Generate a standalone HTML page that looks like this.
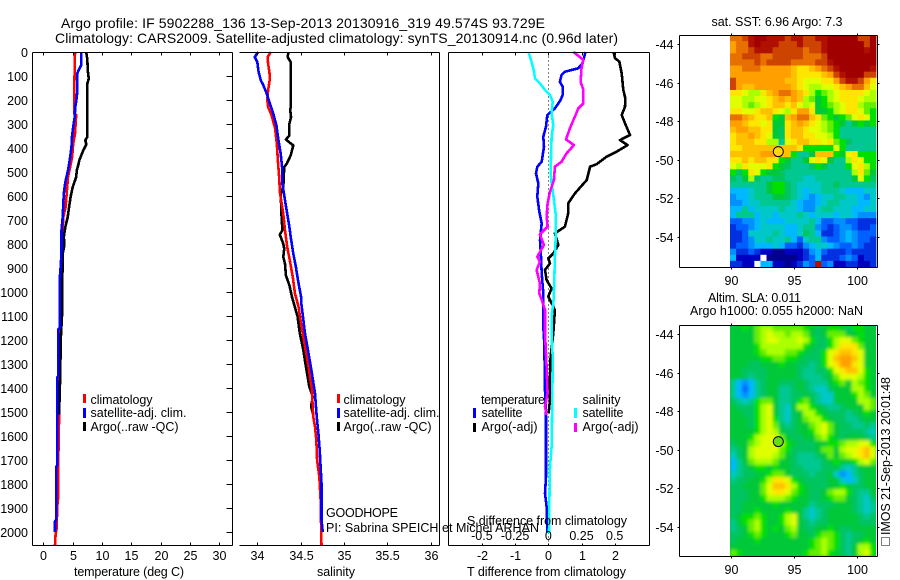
<!DOCTYPE html>
<html>
<head>
<meta charset="utf-8">
<title>Argo profile</title>
<style>
html,body{margin:0;padding:0;background:#fff;width:900px;height:580px;overflow:hidden}
svg{display:block}
text{font-family:"Liberation Sans",sans-serif;font-size:12.5px;fill:#000}
.t{font-size:14px}
.spine{stroke:#000;stroke-width:1;shape-rendering:crispEdges;fill:none}
</style>
</head>
<body>
<svg id="fig" width="900" height="580" viewBox="0 0 900 580" xmlns="http://www.w3.org/2000/svg">
<defs>
<filter id="slaBlur" filterUnits="userSpaceOnUse" x="720" y="315" width="166" height="251"><feGaussianBlur stdDeviation="1.6"/></filter>
<clipPath id="slaClip"><rect x="730" y="325" width="146" height="231"/></clipPath>
</defs>
<text class="t" x="61" y="28" textLength="484">Argo profile: IF 5902288_136 13-Sep-2013 20130916_319 49.574S 93.729E</text>
<text class="t" x="55" y="43" textLength="563">Climatology: CARS2009. Satellite-adjusted climatology: synTS_20130914.nc (0.96d later)</text>

<g id="panelT"></g>
<g id="panelS"></g>
<g id="panelD"></g>
<g id="map1"></g>
<g id="map2"></g>

<text x="74" y="576" textLength="110">temperature (deg C)</text>
<text x="317" y="576" textLength="38">salinity</text>
<text x="467" y="576" textLength="159">T difference from climatology</text>
<text x="467" y="525" textLength="160">S difference from climatology</text>

<g>
<rect x="83" y="394" width="3" height="9" fill="#f00"/>
<rect x="83" y="408" width="3" height="10" fill="#00f"/>
<rect x="83" y="422" width="3" height="9" fill="#000"/>
<text x="90.5" y="404" textLength="62">climatology</text>
<text x="90.5" y="417" textLength="96">satellite-adj. clim.</text>
<text x="90.5" y="431" textLength="88">Argo(..raw -QC)</text>
</g>
<g>
<rect x="337" y="394" width="3" height="9" fill="#f00"/>
<rect x="337" y="408" width="3" height="10" fill="#00f"/>
<rect x="337" y="422" width="3" height="9" fill="#000"/>
<text x="343.5" y="404" textLength="62">climatology</text>
<text x="343.5" y="417" textLength="96">satellite-adj. clim.</text>
<text x="343.5" y="431" textLength="88">Argo(..raw -QC)</text>
</g>
<g>
<text x="481" y="404" textLength="64">temperature</text>
<rect x="473" y="408" width="3" height="10" fill="#00f"/>
<rect x="473" y="423" width="3" height="9" fill="#000"/>
<text x="481.5" y="417" textLength="41">satellite</text>
<text x="481.5" y="431" textLength="56">Argo(-adj)</text>
<text x="582.5" y="404" textLength="38">salinity</text>
<rect x="574" y="408" width="3" height="10" fill="#0ff"/>
<rect x="574" y="423" width="3" height="9" fill="#f0f"/>
<text x="582.5" y="417" textLength="41">satellite</text>
<text x="582.5" y="431" textLength="56">Argo(-adj)</text>
</g>

<text x="326" y="517" textLength="72">GOODHOPE</text>
<text x="326" y="532" textLength="213">PI: Sabrina SPEICH et Michel ARHAN</text>

<text x="711.5" y="26" textLength="131">sat. SST: 6.96 Argo: 7.3</text>
<text x="708" y="302" textLength="93">Altim. SLA: 0.011</text>
<text x="690" y="315" textLength="173">Argo h1000: 0.055 h2000: NaN</text>

<rect x="881.5" y="537.5" width="8" height="8" fill="none" stroke="#000" stroke-width="1" stroke-dasharray="1 1" shape-rendering="crispEdges"/>
<text transform="translate(890,535) rotate(-90)" x="0" y="0" textLength="158">IMOS 21-Sep-2013 20:01:48</text>
</svg>

<script>
// ---- Temperature profile data (deg C vs depth in m)
const tempClimDepth = [0,132,258,262,340,382,438,482,521,583,646,688,729,812,924,1061,1400,1520,1700,1850,1900,1980,2010,2054];
const tempClimValue = [5.4,5.3,5.3,5.6,5.4,5.1,4.9,4.55,4.2,4.0,3.8,3.4,3.3,3.1,3.2,3.1,2.75,2.7,2.55,2.55,2.35,2.3,2.1,2.0];
const tempSatDepth = [0,55,79,90,160,188,229,271,313,347,396,451,493,542,590,632,688,743,826,882,931,1010,1150,1155,1350,1355,1720,1730,1950,1955,2000];
const tempSatValue = [6.45,6.45,5.97,5.8,5.8,5.7,5.45,5.35,5.1,4.9,4.8,4.5,4.2,3.75,3.5,3.4,3.3,3.1,3.1,3.0,2.85,2.8,2.85,2.55,2.55,2.4,2.4,2.2,2.2,2.0,2.0];
const tempArgoDepth = [0,30,83,111,132,354,368,385,410,450,472,493,521,563,604,646,688,729,771,806,840,1033,1090,1185,1380,1510];
const tempArgoValue = [7.3,7.5,7.6,7.75,7.5,7.5,7.15,7.35,6.8,6.15,5.95,5.7,5.6,5.0,4.65,4.4,4.15,3.75,3.5,3.6,3.3,3.2,3.2,3.0,2.85,2.7];

// ---- Salinity profile data
const salClimDepth = [0,21,49,83,111,160,201,229,264,319,382,465,535,583,674,743,812,868,938,1007,1061,1144,1227,1311,1408,1519,1561,1616,1700,1769,1866,2055];
const salClimValue = [34.155,34.12,34.125,34.14,34.145,34.125,34.115,34.125,34.165,34.205,34.225,34.24,34.255,34.26,34.30,34.32,34.345,34.375,34.41,34.435,34.475,34.51,34.55,34.59,34.63,34.645,34.665,34.68,34.69,34.715,34.73,34.74];
const salSatDepth = [0,21,42,83,118,139,174,215,257,306,368,424,493,549,618,674,729,771,840,896,951,1021,1040,1172,1255,1339,1422,1519,1589,1658,1797,1950,2000];
const salSatValue = [34.01,33.97,34.0,34.015,34.04,34.07,34.11,34.145,34.185,34.22,34.245,34.27,34.29,34.29,34.32,34.345,34.37,34.385,34.415,34.445,34.47,34.505,34.505,34.55,34.59,34.63,34.665,34.685,34.705,34.72,34.74,34.74,34.755];
const salArgoDepth = [0,21,42,229,243,271,299,347,365,389,431,465,479,563,590,688,743,761,799,819,854,882,931,972,1021,1103,1172,1241,1311,1394,1436,1477,1512];
const salArgoValue = [34.36,34.35,34.385,34.385,34.38,34.39,34.37,34.37,34.33,34.415,34.385,34.34,34.31,34.30,34.27,34.28,34.29,34.26,34.30,34.31,34.30,34.32,34.33,34.37,34.40,34.465,34.49,34.53,34.56,34.6,34.64,34.62,34.645];

// ---- Difference data
const dTSatDepth = [0,47,68,82,96,124,144,179,200,235,263,311,353,394,457,478,506,547,603,665,714,783,853,922,1006,1144,1214,1408,1519,1769,1839,1894,2005];
const dTSatValue = [1.12,1.03,.90,.50,.40,.35,.43,.43,.37,.20,-.03,-.07,-.15,-.13,-.20,-.33,-.37,-.30,-.33,-.27,-.20,-.25,-.22,-.20,-.15,-.15,-.12,-.10,-.07,-.07,-.10,-.05,-.03];
const dTArgoDepth = [0,26,40,89,158,193,228,263,297,346,367,388,415,436,467,478,533,589,631,672,728,756,804,839,860,881,908,950,985,1019,1075,1172,1269,1352,1450,1505];
const dTArgoValue = [1.96,2.01,2.14,2.21,2.26,2.32,2.31,2.21,2.31,2.46,2.16,2.39,2.06,1.76,1.46,1.26,1.16,.80,.60,.60,.50,.20,.30,.15,0,.05,-.10,-.05,.10,0,.20,.15,.07,.05,.05,.01];
const dSSatDepth = [0,33,75,110,131,158,179,207,256,304,353,436,506,547,617,672,783,853,950,1033,1102,1186,1269,1450,1644,1727,1866,2005];
const dSSatValue = [-.15,-.13,-.11,-.10,-.063,-.025,.013,.033,.025,.038,.025,.02,.018,.025,.043,.055,.055,.05,.045,.04,.025,.025,.033,.03,.025,.013,.008,.005];
const dSArgoDepth = [0,33,68,124,158,214,235,269,318,364,388,422,457,478,533,582,631,686,728,760,804,853,874,908,964,1006,1033,1075,1172,1311,1422,1477,1512];
const dSArgoValue = [.19,.264,.25,.243,.264,.264,.226,.20,.163,.133,.193,.138,.10,.05,.043,.013,-.005,-.013,-.005,-.063,-.033,-.083,-.063,-.088,-.063,-.068,-.05,-.025,-.025,-.013,-.005,-.025,-.013];

// ---- Tick labels
const depthTicks = [0,100,200,300,400,500,600,700,800,900,1000,1100,1200,1300,1400,1500,1600,1700,1800,1900,2000];
const tempTicks = [0,5,10,15,20,25,30];
const salTicks = [34,34.5,35,35.5,36];
const salTickLabels = ["34","34.5","35","35.5","36"];
const dTTicks = [-2,-1,0,1,2];
const dTTickLabels = ["-2","-1","0","1","2"];
const dSTicks = [-.5,-.25,0,.25,.5];
const dSTickLabels = ["-0.5","-0.25","0","0.25","0.5"];
const latTicks = [-44,-46,-48,-50,-52,-54];
const lonTicks = [90,95,100];
const argoLon = [93.729];
const argoLat = [-49.574];

// ---- Map grids: one character per cell, colour level a (coldest) .. u (warmest), w = no data
const levelColours = {a:"#00008f",b:"#0000c0",c:"#0030e0",d:"#0060ff",e:"#0090ff",f:"#00b8ff",g:"#00c8c8",h:"#00c890",i:"#00c460",j:"#00c838",k:"#00e000",l:"#66ee00",m:"#aaff00",n:"#e0ff00",o:"#ffe600",p:"#ffc000",q:"#ffa000",r:"#e87000",s:"#cc4400",t:"#b01000",u:"#a00000",w:"#ffffff"};
const sstRows = [
"rrstuutttsttssttuuuuussu",
"qrrtutttssstssstuuuuuusu",
"qrrstttsssssrsstuuuuuutu",
"rrsssrrsssssrrrsuuuuuuuu",
"rrrrsrssssrrrrsstuuuuuuu",
"qqrrrqqqqqpoopqrstuuuuut",
"qqqqqqqqqqpoooopqstuuuss",
"sqqqqqqqqpponnnooqsttsqo",
"sqppqqqqqqponmmnnopqrrpn",
"oonmmopqrrqpomklmnoooonm",
"nnmmnnopqpqpmljkmnooonmm",
"nnmlmnoppopnmnjklmnoomll",
"oonnopponmoqqojjkmnoonlk",
"rrqpoopkjpqrrpolkjklnonk",
"qqpoonojjopqponmlkjhjkjk",
"pqqppoojiopponnmlkhhhhhh",
"oppqponjioppoonnmkhhhhhh",
"opppoommhnoppoonolkihhhh",
"oopppppppppokkkkknkhhhhh",
"pppppqqqppkhhjpppkjnokkk",
"oopoppookjhhjnonjhhmonkk",
"nmonnnokjihhhikjhhhknomk",
"kikonkjjihhhhhhhhhhhmolj",
"ihjmihhiihhhgghhhhhhjnki",
"hhhhhhjkkihgggghhihhhhhh",
"fffghhjkkihgfgghhhgfffgg",
"effghhhjjihgfefgghhggfeg",
"eefgghhhhhgfeefghhgggffg",
"ffhfgggghggfeeghhgggffgg",
"fhhhfggfggghgfgggfggfeee",
"ddeefgfffgggghfddeeddccc",
"cddefggggffghhedcdeedccd",
"ccdgggghgffgihfccdefeddd",
"ccdegghgghfdghheddefeddc",
"cddefffgfddcefggfeddedcc",
"eccdcbbaabbbcefdcccdcccc",
"fbbbbwaaaaabcdfcccdedbcc",
"ccbbwffbbabcedtdebbccbbc"
];
const slaRows = [
"jjkjlmmlllllkjijkkjikkjj",
"jjjjlmnmmlmmljijllljjkjj",
"jjjjlmnnmmmnmkiikmnnlkjj",
"jjjjkmmmmmmmkjiikmoooljj",
"jjjjklmmmllkjiiknopponjj",
"jjjjjkkllkkjiiiknpqqpnjj",
"jjjiijjjkjjiihiknoqqonjj",
"jjiiiijjjjjihhiiknoppnkj",
"jjihiijjjjjihhhijlnnnmkj",
"hfefhijjiiijihhhjkljmlkj",
"hfdfhijjhhijihggijjjmmkj",
"hfefhijjhhiijihggjjjkmlj",
"ihghklljhhikljhggjjjjmml",
"jiiikmnjhgjmmkjihhijjjml",
"jjiikmnjhgijmmkjiiihijkj",
"jjjikmnkhgijlmmkjiihhijj",
"jjjikmnlihijjlmnljiihhih",
"jjjjkmnmjiijjkmnljiiiihg",
"jjjkmnnnljiijjlmkjijjjih",
"ijjlmnnnmkjiiijjkklmmnnk",
"hijmnnnnlkiiiijlljmnnopn",
"gijmnnnmljihhhijljlmnopn",
"fhjlmmmljjihhhhijkjjkmnl",
"fhijkkjkjjiihhhiijhghjjj",
"ghiijjklljiiihiijgefhijj",
"hiijjkmoonkjiiiijjgfgijj",
"iijjjlnppomkjiiijjkjiijj",
"iiijjlnoonlkjiijlmmkihhj",
"iiijjkmmmlkjjiijklljihgi",
"iijjjjjkjjjjjhiiijjjihgh",
"iijjkjjjjkjjhghijjjjihgh",
"ijkklkjjkmnjhghijjjjjihi",
"hjklmkjjkmnjihiijjjjjiii",
"hijlmkjkjlmjiijjkjiijjjj",
"iijklkjjjkljjikllkihiijj",
"ijjjkjjjjjjjjklmlkihijkj",
"jjjjjjjjjjjjjklmlkihjmmk",
"lkjjjjjjjjjjkllmkjihjmnk"
];

// ---- Scales
const SVGNS = "http://www.w3.org/2000/svg";
const yDepth = d => 52 + 0.24 * d;
const xTemp = t => 43.3 + 5.87 * t;
const xSal = s => 257.3 + 86.7 * (s - 34);
const xDT = t => 548.3 + 33.2 * t;
const xDS = s => 548.3 + 132.8 * s;
const xLon = lon => 731.3 + 12.6 * (lon - 90);
const yLat1 = lat => 44 + 19.3 * (-44 - lat);
const yLat2 = lat => 334 + 19.3 * (-44 - lat);
const LINE_W = 2.6;

function mk(tag, parent) {
  const el = document.createElementNS(SVGNS, tag);
  parent.appendChild(el);
  return el;
}
function line(parent, x1, y1, x2, y2) {
  const el = mk("line", parent);
  el.setAttribute("x1", x1);
  el.setAttribute("y1", y1);
  el.setAttribute("x2", x2);
  el.setAttribute("y2", y2);
  el.setAttribute("class", "spine");
  return el;
}
function label(parent, x, y, str, anchor) {
  const el = mk("text", parent);
  el.setAttribute("x", x);
  el.setAttribute("y", y);
  el.setAttribute("text-anchor", anchor);
  el.textContent = str;
  return el;
}
function profile(parent, xs, ys, xf, yf, colour) {
  const el = mk("polyline", parent);
  el.setAttribute("points", xs.map((v, i) => xf(v).toFixed(1) + "," + yf(ys[i]).toFixed(1)).join(" "));
  el.setAttribute("fill", "none");
  el.setAttribute("stroke", colour);
  el.setAttribute("stroke-width", LINE_W);
  el.setAttribute("stroke-linejoin", "round");
  el.setAttribute("shape-rendering", "crispEdges");
  return el;
}

const TOP = 52.5, BOT = 545.5;

// ---- Temperature panel
(function () {
  const g = document.getElementById("panelT");
  const red = profile(g, tempClimValue, tempClimDepth, xTemp, yDepth, "#f00");
  
  
  const blk = profile(g, tempArgoValue, tempArgoDepth, xTemp, yDepth, "#000");
  
  
  const blu = profile(g, tempSatValue, tempSatDepth, xTemp, yDepth, "#00f");
  
  
  const s1 = line(g, 32.5, TOP, 232.5, TOP);
  
  
  const s2 = line(g, 32.5, BOT, 232.5, BOT);
  
  
  const s3 = line(g, 32.5, TOP, 32.5, BOT);
  
  
  const s4 = line(g, 232.5, TOP, 232.5, BOT);
  
  
  depthTicks.forEach(d => {
    const y = Math.round(yDepth(d)) + 0.5;
    const tk = line(g, 226.5, y, 232.5, y);
    
    
    const lb = label(g, 28, y + 4.5, String(d), "end");
    
    
  });
  tempTicks.forEach(t => {
    const x = Math.round(xTemp(t)) + 0.5;
    const a = line(g, x, TOP, x, TOP + 3);
    
    
    const b = line(g, x, BOT - 3, x, BOT);
    
    
    const lb = label(g, x, 560, String(t), "middle");
    
    
  });
})();

// ---- Salinity panel
(function () {
  const g = document.getElementById("panelS");
  const blk = profile(g, salArgoValue, salArgoDepth, xSal, yDepth, "#000");
  
  
  const red = profile(g, salClimValue, salClimDepth, xSal, yDepth, "#f00");
  
  
  const blu = profile(g, salSatValue, salSatDepth, xSal, yDepth, "#00f");
  
  
  const s1 = line(g, 239.5, TOP, 439.5, TOP);
  
  
  const s2 = line(g, 239.5, BOT, 439.5, BOT);
  
  
  const s3 = line(g, 439.5, TOP, 439.5, BOT);
  
  
  salTicks.forEach((s, i) => {
    const x = Math.round(xSal(s)) + 0.5;
    const a = line(g, x, TOP, x, TOP + 3);
    
    
    const b = line(g, x, BOT - 3, x, BOT);
    
    
    const lb = label(g, x, 560, salTickLabels[i], "middle");
    
    
  });
})();

// ---- Difference panel
(function () {
  const g = document.getElementById("panelD");
  const z = mk("line", g);
  z.setAttribute("x1", 548.5);
  z.setAttribute("y1", TOP);
  z.setAttribute("x2", 548.5);
  z.setAttribute("y2", BOT);
  z.setAttribute("stroke", "#000");
  z.setAttribute("stroke-dasharray", "1 3");
  z.setAttribute("shape-rendering", "crispEdges");
  
  
  const blu = profile(g, dTSatValue, dTSatDepth, xDT, yDepth, "#00f");
  
  
  const blk = profile(g, dTArgoValue, dTArgoDepth, xDT, yDepth, "#000");
  
  
  const cy = profile(g, dSSatValue, dSSatDepth, xDS, yDepth, "#0ff");
  
  
  const mg = profile(g, dSArgoValue, dSArgoDepth, xDS, yDepth, "#f0f");
  
  
  const s1 = line(g, 448.5, TOP, 649.5, TOP);
  
  
  const s2 = line(g, 448.5, BOT, 649.5, BOT);
  
  
  const s3 = line(g, 448.5, TOP, 448.5, BOT);
  
  
  const s4 = line(g, 649.5, TOP, 649.5, BOT);
  
  
  dTTicks.forEach((t, i) => {
    const x = Math.round(xDT(t)) + 0.5;
    const a = line(g, x, TOP, x, TOP + 3);
    
    
    const b = line(g, x, BOT - 2, x, BOT);
    
    
    const lb = label(g, x, 560, dTTickLabels[i], "middle");
    
    
  });
  dSTicks.forEach((s, i) => {
    const lb = label(g, xDS(s), 540, dSTickLabels[i], "middle");
    
    
  });
})();

// ---- Maps
function drawMap(g, rows, yLat, top, bottom, markerFill, smooth) {
  const nRows = rows.length, nCols = rows[0].length;
  const x0 = 730, x1 = 876;
  const cw = (x1 - x0) / nCols, ch = (bottom - top) / nRows;
  let host = g;
  if (smooth) {
    const clip = mk("g", g);
    clip.setAttribute("clip-path", "url(#slaClip)");
    
    
    const base = mk("rect", clip);
    base.setAttribute("x", x0);
    base.setAttribute("y", top);
    base.setAttribute("width", x1 - x0);
    base.setAttribute("height", bottom - top);
    base.setAttribute("fill", "#00c838");
    
    
    host = mk("g", clip);
    host.setAttribute("filter", "url(#slaBlur)");
    
    
  }
  rows.forEach((row, r) => {
    for (let c = 0; c < nCols; c++) {
      const cell = mk("rect", host);
      cell.setAttribute("x", (x0 + c * cw).toFixed(2));
      cell.setAttribute("y", (top + r * ch).toFixed(2));
      cell.setAttribute("width", (cw + 0.4).toFixed(2));
      cell.setAttribute("height", (ch + 0.4).toFixed(2));
      cell.setAttribute("fill", levelColours[row[c]]);
      
      
    }
  });
  const L = 679.5, R = 877.5, T = top + 0.5, B = bottom + 0.5;
  const a = line(g, L, T, R, T);
  
  
  const b = line(g, L, B, R, B);
  
  
  const c1 = line(g, L, T, L, B);
  
  
  const c2 = line(g, R, T, R, B);
  
  
  latTicks.forEach(lat => {
    const y = Math.round(yLat(lat)) + 0.5;
    const t1 = line(g, L - 2, y, L, y);
    
    
    const t2 = line(g, R, y, R + 2, y);
    
    
    const lb = label(g, 673.5, y + 4.5, String(lat), "end");
    
    
  });
  lonTicks.forEach(lon => {
    const x = Math.round(xLon(lon)) + 0.5;
    const t1 = line(g, x, T - 2, x, T);
    
    
    const t2 = line(g, x, B, x, B + 2);
    
    
    const lb = label(g, x, B + 17.5, String(lon), "middle");
    
    
  });
  const m = mk("circle", g);
  m.setAttribute("cx", xLon(argoLon[0]).toFixed(1));
  m.setAttribute("cy", yLat(argoLat[0]).toFixed(1));
  m.setAttribute("r", 5);
  m.setAttribute("fill", markerFill);
  m.setAttribute("stroke", "#000");
  m.setAttribute("stroke-width", 1);
  
  
}
drawMap(document.getElementById("map1"), sstRows, yLat1, 35, 267, "#ffd800", false);
drawMap(document.getElementById("map2"), slaRows, yLat2, 325, 556, "#66dd11", true);
</script>
</body>
</html>
